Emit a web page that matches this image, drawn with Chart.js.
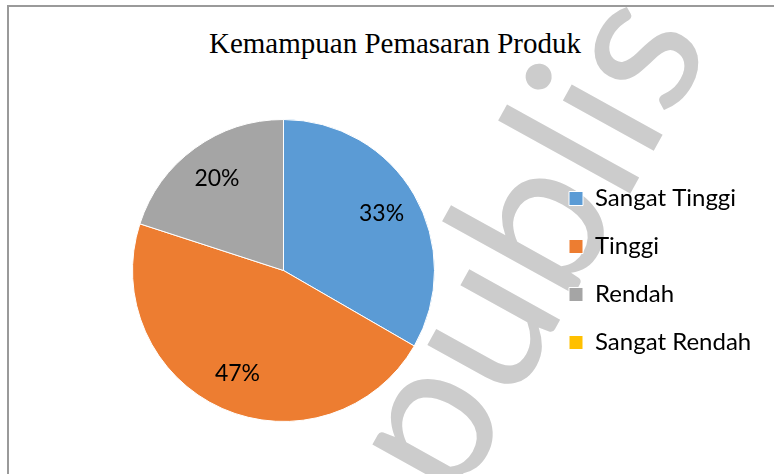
<!DOCTYPE html>
<html lang="id">
<head>
<meta charset="utf-8">
<title>Kemampuan Pemasaran Produk</title>
<script src="https://cdn.jsdelivr.net/npm/chart.js@4.4.1/dist/chart.umd.min.js"></script>
<style>
  html, body { margin: 0; padding: 0; background: #ffffff; }
  .wrap { position: relative; width: 774px; height: 474px; overflow: hidden; }
  .frame {
    position: absolute; left: 7px; top: 5px; width: 800px; height: 500px;
    border-top: 2px solid #9a9a9a; border-left: 2px solid #9a9a9a;
  }
  .watermark {
    position: absolute; left: 457px; top: 508px; white-space: nowrap;
    font-family: Lato, sans-serif; font-size: 205px; line-height: 1; color: #cccccc;
    transform-origin: 0 0; transform: rotate(-61deg) translate(0, -182px);
  }
  .title {
    position: absolute; left: 0; top: 26px; width: 790px; text-align: center;
    font-family: "Liberation Serif", "Times New Roman", serif; font-size: 29px; color: #000;
    line-height: 34px;
  }
  canvas { position: absolute; left: 0; top: 0; }
</style>
</head>
<body>
<div class="wrap">
  <div class="frame"></div>
  <div class="watermark">publis</div>
  <div class="title">Kemampuan Pemasaran Produk</div>
  <canvas id="pieChart" width="774" height="474"></canvas>
</div>
<script>
const categories = ['Sangat Tinggi', 'Tinggi', 'Rendah', 'Sangat Rendah'];
const responses = [5, 7, 3, 0];
const sliceColors = ['#5B9BD5', '#ED7D31', '#A5A5A5', '#FFC000'];

const fontFamily = 'Lato, "Open Sans", sans-serif';
const legendSize = 24;
const legendPadding = 24;
const legendBox = 14;
const legendLeft = 545;

// legend width as Chart.js computes it, so the legend lands where the reference has it
function legendWidth() {
  const ctx = document.createElement('canvas').getContext('2d');
  ctx.font = `${legendSize}px ${fontFamily}`;
  const widest = Math.max(...categories.map((c) => ctx.measureText(c).width));
  return legendPadding + legendBox + legendSize / 2 + widest + 10;
}

// percentage labels inside each slice
const percentLabels = {
  id: 'percentLabels',
  afterDatasetsDraw(chart) {
    const { ctx } = chart;
    const meta = chart.getDatasetMeta(0);
    const values = chart.data.datasets[0].data;
    const total = values.reduce((sum, v) => sum + v, 0);
    ctx.save();
    ctx.font = `23px ${fontFamily}`;
    ctx.fillStyle = '#000000';
    ctx.textAlign = 'center';
    ctx.textBaseline = 'middle';
    meta.data.forEach((arc, i) => {
      if (!values[i]) return;
      const { x, y, startAngle, endAngle, outerRadius } = arc.getProps(['x', 'y', 'startAngle', 'endAngle', 'outerRadius'], true);
      const mid = (startAngle + endAngle) / 2;
      const r = outerRadius * 0.75;
      const pct = Math.round((values[i] / total) * 100);
      ctx.fillText(`${pct}%`, x + Math.cos(mid) * r, y + Math.sin(mid) * r);
    });
    ctx.restore();
  },
};

document.fonts.load(`${legendSize}px Lato`).finally(() => {
  const padRight = Math.max(0, 774 - legendLeft - legendWidth());

  new Chart(document.getElementById('pieChart'), {
    type: 'pie',
    data: {
      labels: categories,
      datasets: [
        {
          data: responses,
          backgroundColor: sliceColors,
          borderColor: '#ffffff',
          borderWidth: 1,
        },
      ],
    },
    options: {
      responsive: false,
      animation: false,
      devicePixelRatio: 1,
      layout: { padding: { top: 119, bottom: 52, left: 22, right: padRight } },
      plugins: {
        legend: {
          position: 'right',
          labels: {
            color: '#000000',
            font: { family: fontFamily, size: legendSize },
            boxWidth: legendBox,
            boxHeight: legendBox,
            padding: legendPadding,
          },
        },
        tooltip: { enabled: false },
      },
    },
    plugins: [percentLabels],
  });
});
</script>
</body>
</html>
